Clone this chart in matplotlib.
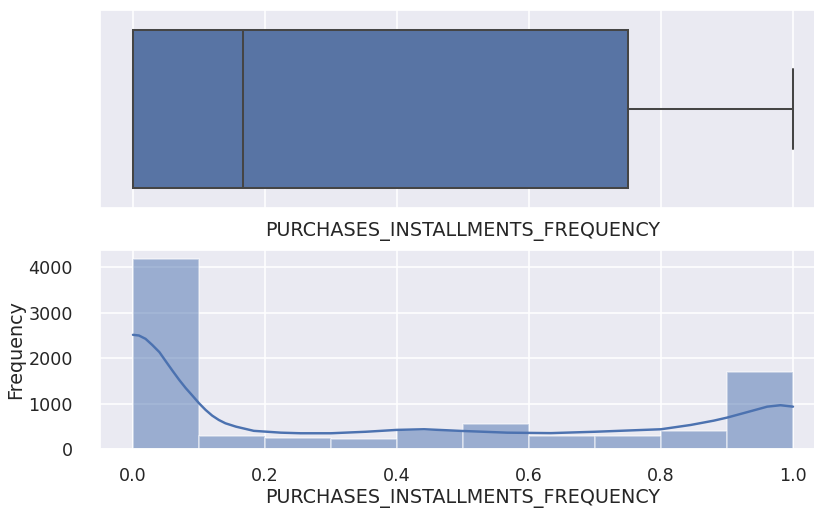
import matplotlib
matplotlib.use("Agg")
import matplotlib.pyplot as plt
import seaborn as sns

sns.set_theme(style="darkgrid")
plt.rcParams["grid.linewidth"] = 1.15

# Histogram data (10 bins over [0, 1])
bin_edges = [0.0, 0.1, 0.2, 0.3, 0.4, 0.5, 0.6, 0.7, 0.8, 0.9, 1.0]
counts = [4165, 294, 255, 220, 420, 550, 292, 292, 402, 1690]

# KDE curve (scaled to counts)
kde_x = [0.0, 0.009, 0.019, 0.029, 0.040, 0.050, 0.060, 0.070, 0.080, 0.090,
         0.100, 0.110, 0.120, 0.130, 0.140, 0.156, 0.183, 0.224, 0.254, 0.30,
         0.353, 0.40, 0.441, 0.50, 0.567, 0.633, 0.70, 0.80, 0.845, 0.88,
         0.90, 0.93, 0.961, 0.981, 1.0]
kde_y = [2512, 2497, 2424, 2292, 2132, 1925, 1721, 1523, 1341, 1178,
         1011, 864, 739, 644, 571, 497, 405, 365, 352, 352,
         385, 426, 440, 402, 365, 355, 385, 440, 534, 629,
         695, 813, 936, 967, 936]

# Box plot summary
box_q1 = 0.0
box_median = 0.166667
box_q3 = 0.75
box_whislo = 0.0
box_whishi = 1.0

xlabel = "PURCHASES_INSTALLMENTS_FREQUENCY"
xticks = [0.0, 0.2, 0.4, 0.6, 0.8, 1.0]
yticks = [0, 1000, 2000, 3000, 4000]

C0 = "#4c72b0"
box_face = "#5874a4"
line_col = "#454545"

LABEL_FS = 13.8
TICK_FS = 12.65

W, H = 814, 508
fig = plt.figure(figsize=(W / 100, H / 100), dpi=100)

def px_axes(left, top, right, bottom):
    return fig.add_axes([left / W, (H - bottom) / H, (right - left) / W, (bottom - top) / H])

ax1 = px_axes(100, 10, 826, 208)
stats = [dict(med=box_median, q1=box_q1, q3=box_q3, whislo=box_whislo,
              whishi=box_whishi, fliers=[])]
lp = dict(color=line_col, linewidth=1.45)
ax1.bxp(stats, positions=[0], widths=0.8, capwidths=0.4,
        orientation="horizontal", patch_artist=True, showfliers=False,
        boxprops=dict(facecolor=box_face, edgecolor=line_col, linewidth=1.45),
        medianprops=lp, whiskerprops=lp, capprops=lp)
ax1.set_ylim(0.5, -0.5)
ax1.set_xlim(-0.05, 1.05)
ax1.set_yticks([])
ax1.set_xticks(xticks)
ax1.tick_params(axis="x", labelbottom=False)
ax1.set_xlabel(xlabel, fontsize=LABEL_FS, labelpad=10)

ax2 = px_axes(100, 250, 826, 449.3)
ax2.bar(bin_edges[:-1], counts, width=0.1, align="edge", color=C0,
        alpha=0.5, edgecolor="white", linewidth=1.15)
ax2.plot(kde_x, kde_y, color=C0, linewidth=1.75, solid_capstyle="round",
         solid_joinstyle="round")
ax2.set_xlim(-0.05, 1.05)
ax2.set_ylim(0, max(counts) * 1.05)
ax2.set_xticks(xticks)
ax2.set_yticks(yticks)
ax2.tick_params(axis="x", labelsize=TICK_FS, pad=7.0)
ax2.tick_params(axis="y", labelsize=TICK_FS, pad=13.5)
ax2.set_xlabel(xlabel, fontsize=LABEL_FS, labelpad=2.5)
ax2.set_ylabel("Frequency", fontsize=LABEL_FS, labelpad=2.5)

fig.savefig("out.png", dpi=100)
